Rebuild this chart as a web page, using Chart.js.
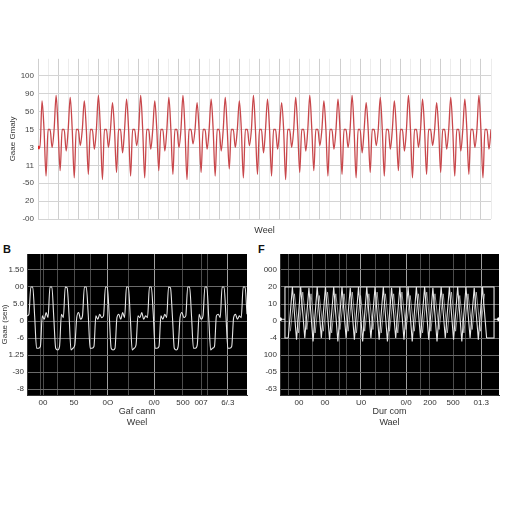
<!DOCTYPE html>
<html>
<head>
<meta charset="utf-8">
<script src="https://cdn.jsdelivr.net/npm/chart.js@4.4.0/dist/chart.umd.min.js"></script>
<style>
body { margin:0; background:#fff; width:512px; height:512px; position:relative; overflow:hidden; font-family:"Liberation Sans", Arial, sans-serif; }
.box { position:absolute; }
.tag { position:absolute; font-weight:bold; font-size:11px; color:#111; }
</style>
</head>
<body>
<div class="box" style="left:0;top:50px;width:512px;height:192px"><canvas id="top"></canvas></div>
<div class="tag" style="left:3px;top:243px">B</div>
<div class="box" style="left:0;top:245px;width:256px;height:185px"><canvas id="gB"></canvas></div>
<div class="tag" style="left:258px;top:243px">F</div>
<div class="box" style="left:256px;top:245px;width:256px;height:185px"><canvas id="gF"></canvas></div>
<script>
// tick labels, bottom to top
const topTicks = ['-00', '20', '-50', '11', '3', '15', '50', '90', '100'];
const bTicks = ['-8', '-30', '1.25', '-6', '0', '5.0', '00', '1.50'];
const fTicks = ['-63', '-05', '100', '-4', '0', '10', '20', '000'];
const bXLabels = ['00', '50', '0O', '0/0', '500', '007', '6/.3'];
const fXLabels = ['00', '00', 'U0', '0/0', '200', '500', '01.3'];

// top trace (red), one row per cycle
const topSignal = [
  4.0, 4.0,
  6.6, 5.0, 2.4, 5.0, 5.0, 4.0, 5.0,
  6.9, 5.0, 2.7, 5.0, 5.0, 3.8, 5.0,
  6.8, 5.0, 2.3, 5.0, 5.0, 4.1, 5.0,
  6.6, 5.0, 2.5, 5.0, 5.0, 3.9, 5.0,
  6.9, 5.0, 2.2, 5.0, 5.0, 4.0, 5.0,
  6.5, 5.0, 2.6, 5.0, 5.0, 3.7, 5.0,
  6.7, 5.0, 2.4, 5.0, 5.0, 4.1, 5.0,
  6.9, 5.0, 2.3, 5.0, 5.0, 3.9, 5.0,
  6.6, 5.0, 2.7, 5.0, 5.0, 3.8, 5.0,
  6.8, 5.0, 2.5, 5.0, 5.0, 4.0, 5.0,
  6.9, 5.0, 2.2, 5.0, 5.0, 4.2, 5.0,
  6.5, 5.0, 2.6, 5.0, 5.0, 3.9, 5.0,
  6.7, 5.0, 2.4, 5.0, 5.0, 3.8, 5.0,
  6.8, 5.0, 2.8, 5.0, 5.0, 4.0, 5.0,
  6.6, 5.0, 2.3, 5.0, 5.0, 4.1, 5.0,
  6.9, 5.0, 2.5, 5.0, 5.0, 3.7, 5.0,
  6.7, 5.0, 2.4, 5.0, 5.0, 3.9, 5.0,
  6.5, 5.0, 2.2, 5.0, 5.0, 4.0, 5.0,
  6.8, 5.0, 2.6, 5.0, 5.0, 3.8, 5.0,
  6.9, 5.0, 2.7, 5.0, 5.0, 4.1, 5.0,
  6.6, 5.0, 2.4, 5.0, 5.0, 3.9, 5.0,
  6.7, 5.0, 2.5, 5.0, 5.0, 4.0, 5.0,
  6.9, 5.0, 2.3, 5.0, 5.0, 3.7, 5.0,
  6.5, 5.0, 2.6, 5.0, 5.0, 4.1, 5.0,
  6.8, 5.0, 2.4, 5.0, 5.0, 3.9, 5.0,
  6.6, 5.0, 2.7, 5.0, 5.0, 3.8, 5.0,
  6.9, 5.0, 2.3, 5.0, 5.0, 4.0, 5.0,
  6.7, 5.0, 2.5, 5.0, 5.0, 4.1, 5.0,
  6.5, 5.0, 2.6, 5.0, 5.0, 3.9, 5.0,
  6.8, 5.0, 2.4, 5.0, 5.0, 3.8, 5.0,
  6.7, 5.0, 2.5, 5.0, 5.0, 4.0, 5.0,
  6.9, 5.0, 2.3, 5.0, 5.0, 3.9, 5.0
];

// panel B pulses
const bSignal = [
  4.3, 4.4,
  6.0, 6.0, 4.3, 2.4, 2.4, 2.5, 4.3, 4.1, 4.5, 4.2,
  6.0, 6.0, 4.2, 2.4, 2.3, 2.5, 4.4, 4.2,
  6.0, 5.95, 4.3, 2.3, 2.4, 2.6, 4.2, 4.5, 4.1, 4.3,
  6.0, 6.0, 4.4, 2.4, 2.4, 2.5, 4.3, 4.1, 4.4, 4.2, 4.3,
  6.0, 6.0, 4.3, 2.4, 2.3, 2.4, 4.2, 4.4, 4.1, 4.5, 4.2,
  6.0, 6.0, 4.2, 2.3, 2.4, 2.6, 4.3, 4.2, 4.5, 4.1, 4.3, 4.2,
  6.0, 6.0, 4.4, 2.4, 2.4, 2.5, 4.3, 4.1, 4.4, 4.2,
  6.0, 5.95, 4.3, 2.4, 2.3, 2.5, 4.2, 4.5, 4.2, 4.3,
  6.0, 6.0, 4.3, 2.4, 2.4, 2.6, 4.4, 4.1, 4.3,
  6.0, 6.0, 4.2, 2.3, 2.4, 2.5, 4.3, 4.4, 4.2,
  6.0, 6.0, 4.3, 2.4, 2.4, 2.5, 4.2, 4.4, 4.1, 4.3, 4.2,
  6.0, 6.0, 4.4
];

// panel F: two interleaved triangle traces and the step frame
const fWaveA = [
  3.0, 6.0, 2.9, 6.0, 3.0, 5.95, 2.8, 6.0, 3.0, 6.0,
  2.9, 6.0, 2.8, 6.0, 3.0, 5.95, 2.9, 6.0, 2.8, 6.0,
  3.0, 6.0, 2.9, 6.0, 2.8, 5.95, 3.0, 6.0, 2.9, 6.0,
  2.8, 6.0, 3.0, 6.0, 2.9, 5.95, 2.8, 6.0, 3.0, 6.0,
  2.9, 6.0, 2.8, 6.0, 3.0, 5.95, 2.9, 6.0, 3.0
];
const fWaveB = [
  3.4, 5.6, 3.3, 5.7, 3.5, 5.6, 3.3, 5.5, 3.4, 5.7,
  3.3, 5.6, 3.5, 5.6, 3.4, 5.7, 3.3, 5.5, 3.4, 5.6,
  3.5, 5.7, 3.3, 5.6, 3.4, 5.6, 3.3, 5.7, 3.5, 5.5,
  3.4, 5.6, 3.3, 5.7, 3.4, 5.6, 3.5, 5.6, 3.3, 5.7,
  3.4, 5.5, 3.3, 5.6, 3.5, 5.7, 3.4, 5.6
];
const fFrameX = [0, 1.2, 1.2, 2, 1.6, 1.2, 1.2, 51.8, 51.8, 50, 50.9, 51.8, 53];
const fFrameY = [4.1, 4.1, 3.0, 3.0, null, 3.0, 6.0, 6.0, 3.0, 3.0, null, 4.1, 4.1];

Chart.defaults.font.family = '"Liberation Sans", Arial, sans-serif';
Chart.defaults.font.size = 8;
Chart.defaults.color = '#444';
Chart.defaults.animation = false;

const blackPlot = {
  id: 'blackPlot',
  beforeDraw(c) {
    const a = c.chartArea, g = c.ctx;
    g.save();
    g.fillStyle = '#000';
    g.fillRect(a.left, a.top, a.right - a.left, a.bottom - a.top);
    g.restore();
  }
};

const pts = (arr, shift) => arr.map((v, i) => ({ x: i + (shift || 0), y: v }));
const setTicks = vals => axis => { axis.ticks = vals.map(v => ({ value: v })); };
const range = (n, step) => Array.from({ length: n }, (_, i) => i * step);

// top panel
new Chart(document.getElementById('top'), {
  type: 'line',
  data: {
    datasets: [{
      data: pts(topSignal),
      borderColor: '#c8474b',
      borderWidth: 1.3,
      cubicInterpolationMode: 'monotone',
      pointRadius: c => c.dataIndex === 0 ? 2.5 : 0,
      pointStyle: 'rect',
      pointBackgroundColor: '#e02424',
      pointBorderWidth: 0
    }]
  },
  options: {
    responsive: true,
    maintainAspectRatio: false,
    layout: { padding: { top: 7, right: 21, left: 0, bottom: 0 } },
    plugins: { legend: { display: false }, tooltip: { enabled: false } },
    scales: {
      x: {
        type: 'linear', min: 0, max: topSignal.length - 1,
        afterBuildTicks: setTicks(range(46, 5)),
        ticks: { display: false },
        grid: { color: c => c.index % 2 ? '#ececec' : '#cfcfcf', drawTicks: false },
        border: { display: false },
        title: { display: true, text: 'Weel', color: '#333', font: { size: 9 }, padding: { top: 0, bottom: 6 } },
        afterFit: s => { s.height = 23; }
      },
      y: {
        min: 0, max: 8.95,
        afterBuildTicks: setTicks(range(9, 1)),
        ticks: { callback: v => topTicks[v], padding: 4 },
        grid: { color: '#d4d4d4', drawTicks: false },
        border: { display: false },
        title: { display: true, text: 'Gaae Gmaly', color: '#333', font: { size: 8 }, padding: { top: 8, bottom: 0 } },
        afterFit: s => { s.width = 38; }
      }
    }
  }
});

function darkPanel(id, datasets, xMax, yMin, yMax, yLabels, xPos, xGrid, xLabels, xBright, xTitle, yTitle, yWidth, padRight) {
  const allX = xPos.concat(xGrid).sort((a, b) => a - b);
  new Chart(document.getElementById(id), {
    type: 'line',
    data: { datasets: datasets },
    options: {
      responsive: true,
      maintainAspectRatio: false,
      layout: { padding: { top: 9, right: padRight, left: 0, bottom: 0 } },
      plugins: { legend: { display: false }, tooltip: { enabled: false } },
      scales: {
        x: {
          type: 'linear', min: 0, max: xMax,
          afterBuildTicks: setTicks(allX),
          ticks: {
            autoSkip: false, maxRotation: 0, padding: 3, color: '#333',
            callback: v => { const k = xPos.indexOf(v); return k < 0 ? '' : xLabels[k]; }
          },
          grid: { color: c => xBright.indexOf(c.tick.value) >= 0 ? '#a0a0a0' : '#4c4c4c', drawTicks: false },
          border: { display: true, color: '#333' },
          title: { display: true, text: xTitle, color: '#333', font: { size: 9 }, padding: { top: 0, bottom: 2 } },
          afterFit: s => { s.height = 35; }
        },
        y: {
          min: yMin, max: yMax,
          afterBuildTicks: setTicks(range(yLabels.length, 1)),
          ticks: { callback: v => yLabels[v], padding: 3, color: '#333' },
          grid: { color: '#6a6a6a', drawTicks: false },
          border: { display: true, color: '#333' },
          title: { display: !!yTitle, text: yTitle, color: '#333', font: { size: 8 }, padding: { top: 0, bottom: 0 } },
          afterFit: s => { s.width = yWidth; }
        }
      }
    },
    plugins: [blackPlot]
  });
}

const bLine = { borderColor: '#e6e6e6', borderWidth: 1.1, pointRadius: 0, cubicInterpolationMode: 'monotone' };

darkPanel('gB',
  [Object.assign({ data: pts(bSignal) }, bLine)],
  bSignal.length - 1, -0.35, 7.94, bTicks,
  [8.4, 24.6, 42.3, 66.4, 81.5, 91, 105],
  [7.3, 15.7, 33, 52.8, 94.5],
  bXLabels, [42.3, 66.4, 105],
  ['Gaf cann', 'Weel'], 'Gaae (sen)', 27, 9);

darkPanel('gF',
  [
    { data: pts(fWaveA, 2), borderColor: '#e8e8e8', borderWidth: 1.1, pointRadius: 0, tension: 0 },
    { data: pts(fWaveB, 2.5), borderColor: 'rgba(220,220,220,0.75)', borderWidth: 0.9, pointRadius: 0, tension: 0 },
    {
      data: fFrameX.map((x, i) => ({ x: x, y: fFrameY[i] })),
      borderColor: '#e8e8e8', borderWidth: 1.1, tension: 0, spanGaps: false,
      pointRadius: c => (c.dataIndex === 0 || c.dataIndex === fFrameX.length - 1) ? 2 : 0,
      pointBackgroundColor: '#fff', pointBorderWidth: 0
    }
  ],
  53, -0.35, 7.94, fTicks,
  [4.6, 10.9, 19.6, 30.5, 36.3, 41.9, 48.7],
  [2, 7.8, 14.5, 16.2, 23.2, 26.6, 33.9, 45],
  fXLabels, [19.6, 30.5, 48.7],
  ['Dur com', 'Wael'], '', 24, 13);
</script>
</body>
</html>
